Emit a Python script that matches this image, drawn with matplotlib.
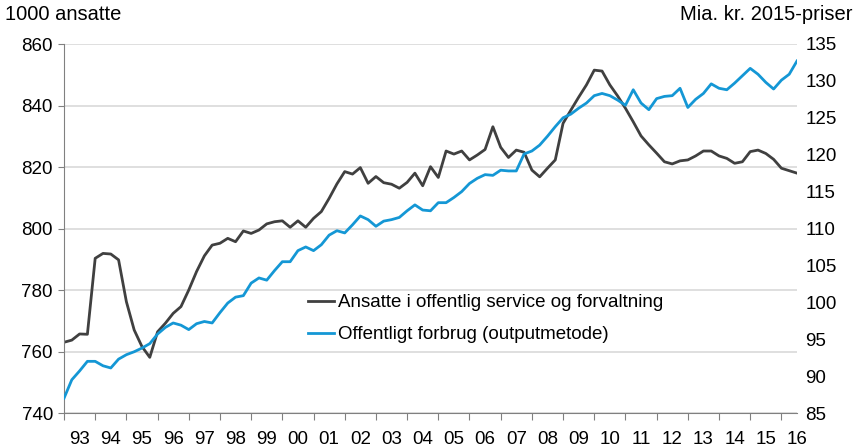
import matplotlib
matplotlib.use("Agg")
import matplotlib.pyplot as plt

plt.rcParams["font.family"] = ["Liberation Sans", "DejaVu Sans"]

# Quarterly data, 1993K1 - 2016K3
ansatte = [
    763.0, 763.7, 765.7, 765.6, 790.3, 791.9, 791.7, 789.8, 776.2, 767.0,
    761.6, 758.1, 766.4, 769.2, 772.4, 774.6, 780.0, 786.0, 791.1, 794.6,
    795.2, 796.8, 795.7, 799.2, 798.4, 799.5, 801.5, 802.2, 802.5, 800.4,
    802.5, 800.4, 803.3, 805.5, 809.8, 814.5, 818.5, 817.7, 819.8, 814.7,
    816.9, 814.9, 814.4, 813.1, 815.0, 818.0, 813.9, 820.1, 816.6, 825.2,
    824.2, 825.2, 822.3, 823.9, 825.7, 833.1, 826.4, 823.1, 825.5, 824.8,
    819.0, 816.8, 819.6, 822.3, 834.2, 838.5, 842.7, 846.7, 851.5, 851.2,
    846.7, 843.1, 839.1, 834.7, 830.1, 827.2, 824.5, 821.7, 821.0, 822.0,
    822.3, 823.6, 825.2, 825.2, 823.6, 822.8, 821.2, 821.7, 825.0, 825.5,
    824.4, 822.5, 819.6, 818.8, 818.0,
]
forbrug = [
    87.0, 89.5, 90.7, 92.0, 92.0, 91.4, 91.1, 92.3, 92.9, 93.3,
    93.8, 94.4, 95.7, 96.6, 97.2, 96.9, 96.3, 97.1, 97.4, 97.2,
    98.6, 99.9, 100.7, 100.9, 102.6, 103.3, 103.0, 104.3, 105.5, 105.5,
    107.0, 107.5, 107.0, 107.8, 109.1, 109.7, 109.4, 110.5, 111.7, 111.2,
    110.3, 111.0, 111.2, 111.5, 112.4, 113.2, 112.5, 112.4, 113.5, 113.5,
    114.2, 115.0, 116.1, 116.8, 117.3, 117.2, 117.9, 117.8, 117.8, 120.1,
    120.5, 121.3, 122.5, 123.8, 125.0, 125.5, 126.3, 127.0, 128.0, 128.3,
    128.0, 127.4, 126.7, 128.8, 127.0, 126.1, 127.6, 127.9, 128.0, 129.0,
    126.4, 127.5, 128.3, 129.6, 129.0, 128.8, 129.7, 130.7, 131.7, 130.9,
    129.8, 128.9, 130.1, 130.9, 132.7,
]
year_labels = ["93", "94", "95", "96", "97", "98", "99", "00", "01", "02", "03", "04",
               "05", "06", "07", "08", "09", "10", "11", "12", "13", "14", "15", "16"]

label_ansatte = "Ansatte i offentlig service og forvaltning"
label_forbrug = "Offentligt forbrug (outputmetode)"

dark = "#404040"
blue = "#1497d5"
grid = "#d9d9d9"
axis_col = "#808080"
fs = 13.5

fig = plt.figure(figsize=(8.6, 4.48), dpi=100)
ax = fig.add_axes([64 / 860, 1 - 413 / 448, 733 / 860, 369 / 448])
ax2 = ax.twinx()

x = list(range(len(ansatte)))
l1, = ax.plot(x, ansatte, color=dark, lw=2.0, label=label_ansatte)
l2, = ax2.plot(x, forbrug, color=blue, lw=2.0, label=label_forbrug)

ax.set_xlim(0, len(ansatte) - 1)
ax.set_ylim(740, 860)
ax2.set_ylim(85, 135)
ax.set_yticks(range(740, 861, 20))
ax2.set_yticks(range(85, 136, 5))

ax.yaxis.grid(True, color=grid, lw=1.2)
ax.set_axisbelow(True)

for a in (ax, ax2):
    a.spines["top"].set_visible(False)
    a.spines["right"].set_visible(False)
ax2.spines["left"].set_visible(False)
ax2.spines["bottom"].set_visible(False)
ax.spines["left"].set_color(axis_col)
ax.spines["bottom"].set_color(axis_col)

ax.tick_params(axis="y", direction="out", length=4, color=axis_col, labelsize=fs, pad=4)
ax2.tick_params(axis="y", length=0, labelsize=fs, pad=6)

# year ticks between years, labels centred in each year
ax.set_xticks(range(0, len(ansatte), 4))
ax.set_xticklabels([])
ax.set_xticks([2 + 4 * k for k in range(len(year_labels))], minor=True)
ax.set_xticklabels(year_labels, minor=True)
ax.tick_params(axis="x", which="major", direction="out", length=5, color=axis_col)
ax.tick_params(axis="x", which="minor", length=0, labelsize=fs, pad=13)

fig.text(5 / 860, 1 - 15 / 448, "1000 ansatte", fontsize=14.5, va="center", ha="left")
fig.text(852 / 860, 1 - 15 / 448, "Mia. kr. 2015-priser", fontsize=14.5, va="center", ha="right")

fig.legend(handles=[l1, l2], loc="upper left", bbox_to_anchor=(308 / 860, 1 - 294 / 448),
           frameon=False, fontsize=fs, handlelength=1.4, handletextpad=0.2,
           labelspacing=0.8, borderpad=0, borderaxespad=0)

fig.savefig("out.png", dpi=100)
